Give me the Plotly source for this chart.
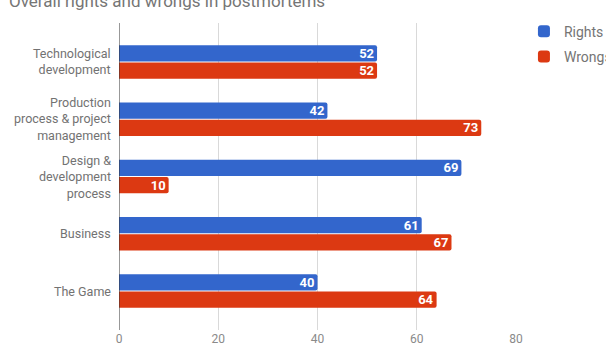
import plotly.graph_objects as go

categories = ["Technological<br>development", "Production<br>process & project<br>management",
              "Design &<br>development<br>process", "Business", "The Game"]
rights = [52, 42, 69, 61, 40]
wrongs = [52, 73, 10, 67, 64]
x_ticks = [0, 20, 40, 60, 80]

BLUE = "#3366CC"
RED = "#DC3912"
FONT = "Roboto, Arial, sans-serif"

fig = go.Figure()
fig.add_trace(go.Bar(
    y=categories, x=rights, name="Rights", orientation="h",
    marker=dict(color=BLUE, line=dict(width=0)),
    text=rights, textposition="inside", insidetextanchor="end", textangle=0,
    constraintext="none",
    textfont=dict(color="white", size=13, family=FONT, weight="bold"),
    legendgroup="a", cliponaxis=False,
))
fig.add_trace(go.Bar(
    y=categories, x=wrongs, name="Wrongs", orientation="h",
    marker=dict(color=RED, line=dict(width=0)),
    text=wrongs, textposition="inside", insidetextanchor="end", textangle=0,
    constraintext="none",
    textfont=dict(color="white", size=13, family=FONT, weight="bold"),
    legendgroup="b", cliponaxis=False,
))

annotations = [dict(text=c, xref="paper", yref="y", x=0, y=c, xanchor="right",
                    yanchor="middle", xshift=-6, align="right", showarrow=False,
                    font=dict(size=12.5, color="#727272", family=FONT))
               for c in categories]

fig.update_layout(
    width=606, height=363,
    margin=dict(l=119, r=90, t=23, b=33, autoexpand=False),
    paper_bgcolor="white", plot_bgcolor="white",
    barmode="group", bargap=0.4, bargroupgap=0.05,
    barcornerradius=2,
    font=dict(family=FONT, color="#757575", size=12),
    title=dict(text="Overall rights and wrongs in postmortems",
               x=9/606, xanchor="left", xref="container",
               y=1 - 1/363, yanchor="middle", yref="container",
               font=dict(size=17, color="#757575", family=FONT)),
    xaxis=dict(range=[0, 80], tickvals=x_ticks, showgrid=True, gridcolor="#d9d9d9",
               gridwidth=1, zeroline=False, showline=False,
               tickfont=dict(size=12, color="#8a8a8a"), ticks="", ticklen=0,
               fixedrange=True),
    yaxis=dict(range=[4.68, -0.68], showgrid=False, zeroline=False,
               showline=False, ticks="", showticklabels=False),
    legend=dict(x=1.02, xanchor="left", y=1.024, yanchor="top",
                font=dict(size=14, color="#757575", family=FONT),
                traceorder="grouped", tracegroupgap=4, itemwidth=30,
                bgcolor="rgba(0,0,0,0)"),
    annotations=annotations,
    shapes=[dict(type="line", xref="x", yref="paper", x0=0, x1=0, y0=0, y1=1,
                 line=dict(color="#333333", width=1), layer="above")],
    showlegend=True,
)

fig.write_html("out.html")
